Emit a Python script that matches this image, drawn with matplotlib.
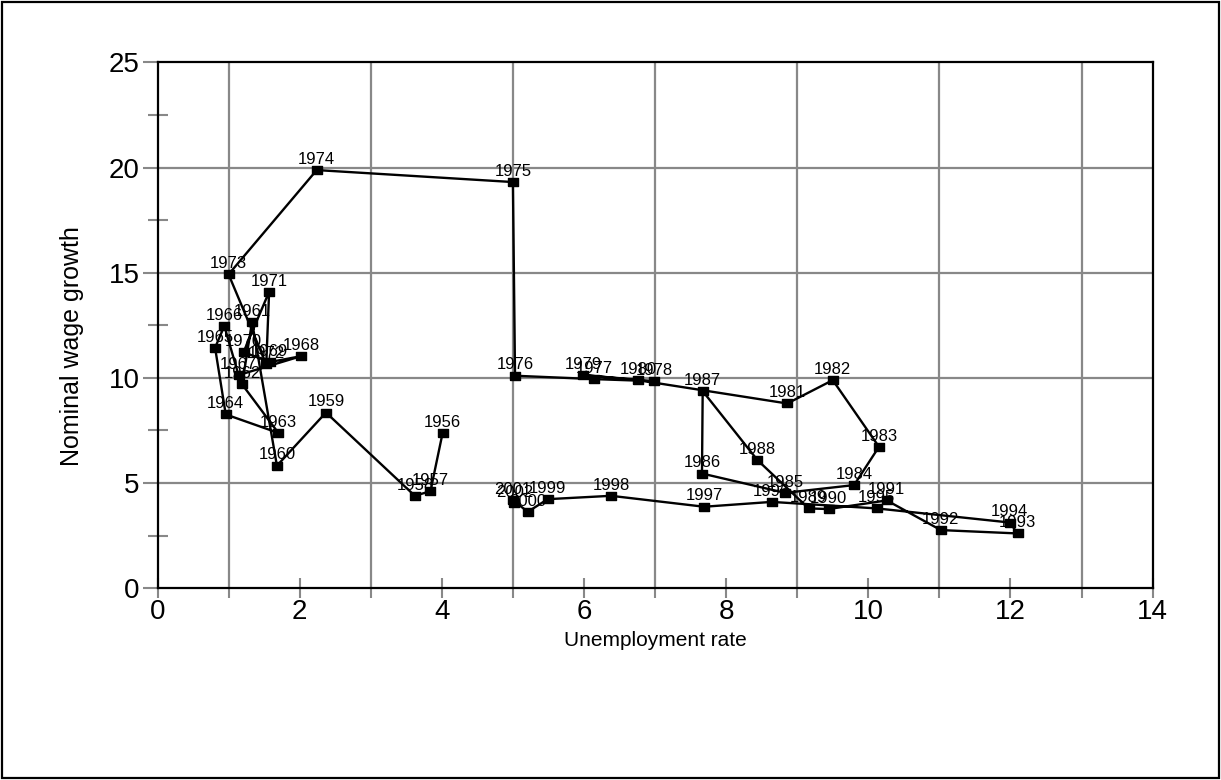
import matplotlib
matplotlib.use('Agg')
import matplotlib.pyplot as plt
from matplotlib.patches import Rectangle
from matplotlib.ticker import MultipleLocator

plt.rcParams['font.family'] = ['Liberation Sans', 'DejaVu Sans']

years = list(range(1956, 2003))
unemployment = [4.01, 3.84, 3.62, 2.37, 1.68, 1.33, 1.19, 1.70, 0.96, 0.81,
                0.94, 1.14, 2.02, 1.58, 1.21, 1.57, 1.53, 1.00, 2.24, 5.00,
                5.03, 6.14, 6.99, 5.99, 6.76, 8.86, 9.50, 10.15, 9.80, 8.83,
                7.66, 7.67, 8.44, 9.16, 9.44, 10.26, 11.02, 12.10, 11.99, 10.12,
                8.64, 7.69, 6.38, 5.49, 5.21, 5.00, 5.02]
wage_growth = [7.36, 4.61, 4.39, 8.35, 5.82, 12.66, 9.69, 7.38, 8.26, 11.43,
               12.47, 10.13, 11.03, 10.75, 11.22, 14.09, 10.65, 14.92, 19.88, 19.31,
               10.10, 9.94, 9.84, 10.13, 9.89, 8.78, 9.89, 6.72, 4.90, 4.53,
               5.45, 9.37, 6.09, 3.79, 3.76, 4.17, 2.76, 2.60, 3.12, 3.79,
               4.10, 3.87, 4.39, 4.23, 3.63, 4.18, 4.04]

fig = plt.figure(figsize=(12.21, 7.80), dpi=100)
ax = fig.add_axes([0.129, 0.246, 0.815, 0.674])

# wide square marker like the excel one
box = [(-1.4, -1), (1.4, -1), (1.4, 1), (-1.4, 1), (-1.4, -1)]
ax.plot(unemployment, wage_growth, color='black', lw=1.7,
        marker=box, markersize=7.6, markerfacecolor='black', markeredgecolor='black', zorder=3)

for yr, x, y in zip(years, unemployment, wage_growth):
    ax.annotate(str(yr), (x, y), xytext=(0, 4.5), textcoords='offset points',
                ha='center', va='baseline', fontsize=12, zorder=4)

ax.set_xlim(0, 14)
ax.set_ylim(0, 25)
ax.xaxis.set_major_locator(MultipleLocator(2))
ax.xaxis.set_minor_locator(MultipleLocator(1))
ax.yaxis.set_major_locator(MultipleLocator(5))
ax.yaxis.set_minor_locator(MultipleLocator(2.5))

ax.grid(False)
for v in range(1, 14, 2):
    ax.axvline(v, color='#888888', lw=1.6, zorder=1)
for v in range(5, 25, 5):
    ax.axhline(v, color='#888888', lw=1.6, zorder=1)

ax.tick_params(axis='x', which='major', direction='inout', length=14, width=1.5,
               color='#888888', labelsize=20, pad=1)
ax.tick_params(axis='x', which='minor', direction='out', length=7, width=1.5, color='#888888')
ax.tick_params(axis='y', which='major', direction='out', length=11, width=1.5,
               color='#888888', labelsize=20, pad=2)
ax.tick_params(axis='y', which='minor', direction='inout', length=15, width=1.5, color='#888888')

for s in ax.spines.values():
    s.set_color('black')
    s.set_linewidth(1.6)

ax.set_xlabel('Unemployment rate', fontsize=15, labelpad=4)
ax.set_ylabel('Nominal wage growth', fontsize=18)
ax.yaxis.set_label_coords(-0.074, 0.46)

fig.patches.append(Rectangle((0.002, 0.003), 0.996, 0.994, transform=fig.transFigure,
                             fill=False, edgecolor='black', lw=1.6))

fig.savefig('out.png', dpi=100)
